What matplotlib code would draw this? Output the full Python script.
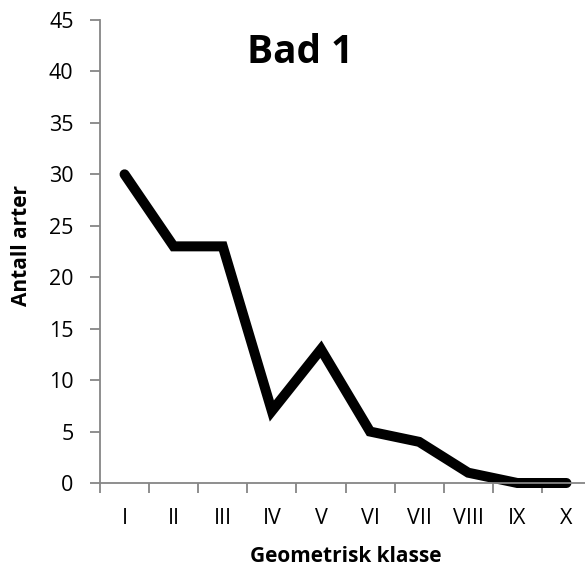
import matplotlib
matplotlib.use("Agg")
import matplotlib.pyplot as plt

categories = ["I", "II", "III", "IV", "V", "VI", "VII", "VIII", "IX", "X"]
values = [30, 23, 23, 7, 13, 5, 4, 1, 0, 0]
y_ticks = [0, 5, 10, 15, 20, 25, 30, 35, 40, 45]

plt.rcParams['font.family'] = ['Open Sans', 'DejaVu Sans']

fig = plt.figure(figsize=(5.85, 5.68), dpi=100)
ax = fig.add_axes([100/585, 1-483/568, 491/585, 463/568])

x = list(range(len(categories)))
ax.plot(x, values, color='black', lw=7.2, solid_capstyle='round', solid_joinstyle='miter', clip_on=False)

ax.set_xlim(-0.5, len(categories) - 0.5)
ax.set_ylim(0, 45)
ax.set_yticks(y_ticks)
ax.set_xticks(x)
ax.set_xticklabels(categories)
ax.set_xticks([i - 0.5 for i in range(len(categories) + 1)], minor=True)

gray = '#868686'
for s in ['top', 'right']:
    ax.spines[s].set_visible(False)
for s in ['left', 'bottom']:
    ax.spines[s].set_color(gray)
    ax.spines[s].set_linewidth(1.3)

ax.tick_params(axis='x', which='major', length=0, pad=18, labelsize=15.5)
ax.tick_params(axis='x', which='minor', length=7, width=1.3, color=gray)
ax.tick_params(axis='y', which='major', length=7, width=1.3, color=gray, pad=12, labelsize=15.5)

ax.set_xlabel("Geometrisk klasse", fontsize=15, fontweight='bold', labelpad=12)
ax.set_ylabel("Antall arter", fontsize=15, fontweight='bold')
ax.yaxis.set_label_coords(-0.139, 0.514)

ax.text(0.407, 0.929, "Bad 1", transform=ax.transAxes, ha='center', va='center',
        fontsize=28, fontweight='bold')

fig.savefig("out.png", dpi=100)
